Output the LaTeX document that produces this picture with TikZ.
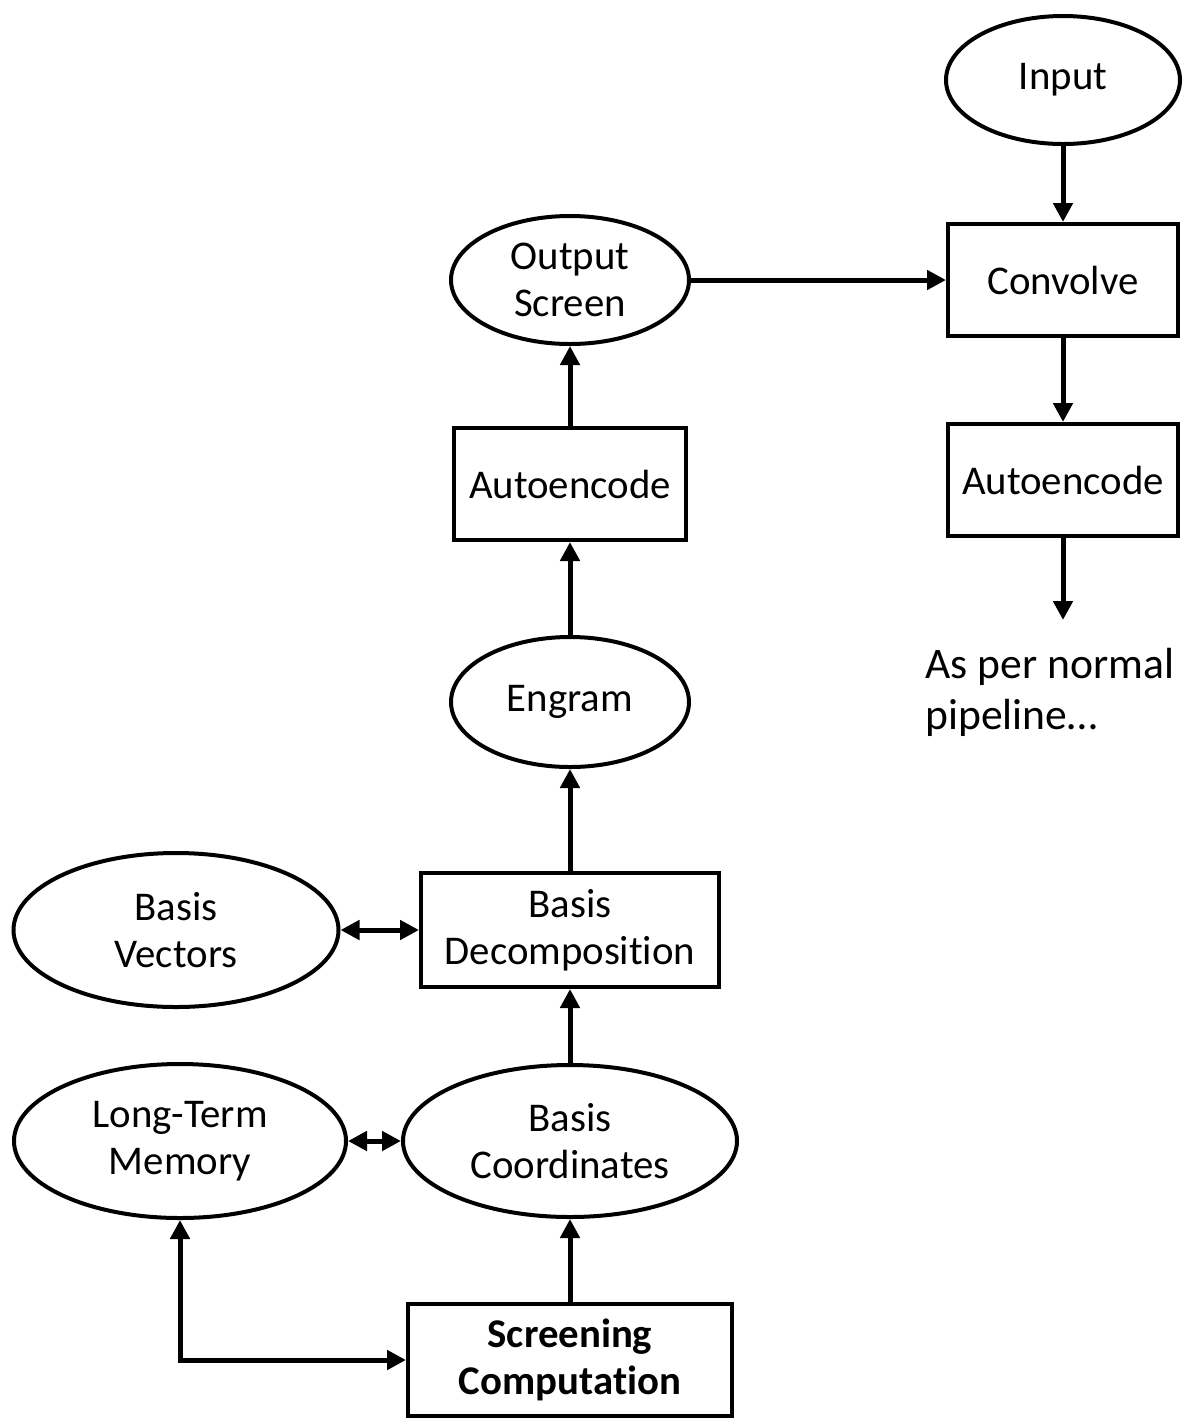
\documentclass[tikz,border=0pt]{standalone}
\usepackage{fontspec}
\setmainfont{Carlito}[Ligatures=NoCommon]
\usetikzlibrary{shapes.geometric, arrows.meta, positioning}
\tikzstyle{stage} = [rectangle, draw=black, line width=2pt, minimum width=116pt, minimum height=56pt, inner sep=0pt, align=center, font=\fontsize{20.4}{23.3}\selectfont]
\tikzstyle{store} = [ellipse, draw=black, line width=2pt, minimum width=119pt, minimum height=64pt, inner sep=0pt, align=center, font=\fontsize{20.4}{23.3}\selectfont]
\tikzstyle{arrow} = [line width=2.5pt, -{Triangle[length=9.5pt,width=9.5pt]}]
\tikzstyle{twoway} = [line width=2.5pt, {Triangle[length=9.5pt,width=9.5pt]}-{Triangle[length=9.5pt,width=9.5pt]}]

\begin{document}
\begin{tikzpicture}[node distance=100pt]
        \useasboundingbox (0,0) rectangle (593.5pt,-710pt);

        % Input pipeline
        \node (input) [store, minimum width=117pt] at (531.5pt,-40pt) {Input};
        \node (conv) [stage, minimum width=115pt, below of=input] {Convolve};
        \node (aer) [stage, minimum width=115pt, below of=conv] {Autoencode};
        \coordinate [below of=aer, yshift=30pt] (next);
        \node (pipe) [anchor=north west, align=left, inner sep=0pt, font=\fontsize{21.8}{25.5}\selectfont] at (462.5pt,-324pt) {As per normal\\pipeline…};

        % Main column
        \node (outscr) [store, left of=conv, xshift=-146.5pt] {Output\\Screen};
        \node (ael) [stage, below of=outscr, yshift=-2pt] {Autoencode};
        \node (engram) [store, minimum height=65pt, below of=ael, yshift=-9pt] {Engram};
        \node (bdec) [stage, minimum width=149pt, minimum height=57pt, below of=engram, yshift=-14pt] {Basis\\Decomposition};
        \node (bcoord) [store, minimum width=167pt, minimum height=76pt, below of=bdec, yshift=-5.5pt] {Basis\\Coordinates};
        \node (screen) [stage, minimum width=162pt, font=\fontsize{20.4}{23.3}\selectfont\bfseries, below of=bcoord, yshift=-9.5pt] {Screening\\Computation};

        % Side stores
        \node (bvec) [store, minimum width=162.5pt, minimum height=77pt, left of=bdec, xshift=-97pt] {Basis\\Vectors};
        \node (ltm) [store, minimum width=166pt, minimum height=77pt, left of=bcoord, xshift=-95pt] {Long-Term\\Memory};

        % Arrows
        \draw [arrow] (input) -- (conv);
        \draw [arrow] (conv) -- (aer);
        \draw [arrow] (aer) -- (next);
        \draw [arrow] (outscr) -- (conv);
        \draw [arrow] (ael) -- (outscr);
        \draw [arrow] (engram) -- (ael);
        \draw [arrow] (bdec) -- (engram);
        \draw [arrow] (bcoord) -- (bdec);
        \draw [arrow] (screen) -- (bcoord);

        \draw [twoway] (bvec) -- (bdec);
        \draw [twoway] (ltm) -- (bcoord);
        \draw [twoway] (ltm.south) |- (screen.west);
    \end{tikzpicture}
\end{document}
